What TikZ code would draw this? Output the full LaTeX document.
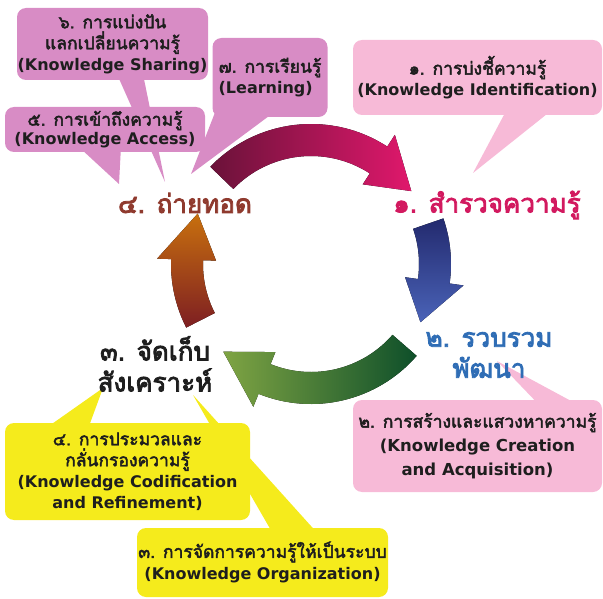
\documentclass[tikz,border=0pt]{standalone}
\usepackage{fontspec}
\newfontfamily\thai[Script=Thai,FakeBold=2.6]{Loma}
\newfontfamily\thaibig[Script=Thai,FakeBold=3.2]{Loma}
\newfontfamily\enf{DejaVu Sans}
\newcommand{\thl}[1]{{\thai\fontsize{17.5}{20}\selectfont #1}}
\newcommand{\enl}[1]{{\enf\bfseries #1}}
\usetikzlibrary{calc,backgrounds}
\definecolor{lpink}{HTML}{F7BAD7}
\definecolor{orchid}{HTML}{D88CC5}
\definecolor{yel}{HTML}{F5EB1C}
\definecolor{labA}{HTML}{D2195F}
\definecolor{labB}{HTML}{2F6DB5}
\definecolor{labC}{HTML}{1E1E1E}
\definecolor{labD}{HTML}{8F3A2E}
\definecolor{maroon}{HTML}{6A1239}
\definecolor{hotpink}{HTML}{E0186C}
\definecolor{navy}{HTML}{232A6E}
\definecolor{midblue}{HTML}{4A63B8}
\definecolor{dkgreen}{HTML}{0E4F2A}
\definecolor{ltgreen}{HTML}{7FA443}
\definecolor{dkred}{HTML}{7D1E22}
\definecolor{orng}{HTML}{C8700E}
\newcommand{\cycarrow}[4]{%
  \fill[#4] ($(C)+(-#1:140)$) arc[start angle=-#1, end angle=-#2, radius=140]
    -- ($(C)+(-#2:154)$) -- ($(C)+(-#3:124)$) -- ($(C)+(-#2:95)$)
    -- ($(C)+(-#2:108)$) arc[start angle=-#2, end angle=-#1, radius=108] -- cycle;}
\begin{document}
\begin{tikzpicture}[x=1pt,y=-1pt,
  callout/.style={rounded corners=9pt, inner sep=0pt, align=center, text=labC,
    font={\lineskiplimit=-100pt\lineskip=0pt\fontsize{16}{21}\selectfont}},
  pbox/.style={callout, fill=lpink},
  obox/.style={callout, fill=orchid},
  ybox/.style={callout, fill=yel},
  lab/.style={inner sep=0pt, align=center,
    font={\lineskiplimit=-100pt\lineskip=0pt\thaibig\fontsize{26}{31}\selectfont}}]
\useasboundingbox (0,0) rectangle (603,599);
\coordinate (C) at (311,264);
% main labels
\node[lab, text=labD] (l4) at (185,203) {๔. ถ่ายทอด};
\node[lab, text=labA] (l1) at (487,205) {๑. สำรวจความรู้};
\node[lab, text=labC] (l3) at (155,364) {๓. จัดเก็บ\\สังเคราะห์};
\node[lab, text=labB] (l2) at (489,355) {๒. รวบรวม\\พัฒนา};
% callout boxes
\node[obox, minimum width=191, minimum height=72] (b6) at (112.5,44)
  {\thl{๖. การแบ่งปัน}\\\thl{แลกเปลี่ยนความรู้}\\\enl{(Knowledge Sharing)}};
\node[obox, minimum width=115, minimum height=79, align=left] (b7) at (270,77.5)
  {\thl{๗. การเรียนรู้}\\\enl{(Learning)}};
\node[obox, minimum width=200, minimum height=45, font={\lineskiplimit=-100pt\fontsize{16}{19}\selectfont}] (b5) at (105,129.5)
  {\thl{๕. การเข้าถึงความรู้}\\\enl{(Knowledge Access)}};
\node[pbox, minimum width=249, minimum height=75] (b1) at (477.5,77.5)
  {\thl{๑. การบ่งชี้ความรู้}\\\enl{(Knowledge Identification)}};
\node[pbox, minimum width=249, minimum height=92, font={\lineskiplimit=-100pt\fontsize{16.5}{24}\selectfont}] (b2) at (477.5,446)
  {\thl{๒. การสร้างและแสวงหาความรู้}\\\enl{(Knowledge Creation}\\\enl{and Acquisition)}};
\node[ybox, minimum width=245, minimum height=97] (y1) at (127.5,471.5)
  {\thl{๔. การประมวลและ}\\\thl{กลั่นกรองความรู้}\\\enl{(Knowledge Codification}\\\enl{and Refinement)}};
\node[ybox, minimum width=251, minimum height=69, font={\lineskiplimit=-100pt\fontsize{16}{22}\selectfont}] (y2) at (262.5,562.5)
  {\thl{๓. การจัดการความรู้ให้เป็นระบบ}\\\enl{(Knowledge Organization)}};
% pointer tips
\coordinate (t1) at (473,173);
\coordinate (t2) at (497,361);
\coordinate (t3) at (103,388);
\coordinate (t4) at (193,395);
\coordinate (t5) at (119,184);
\coordinate (t6) at (165,182);
\coordinate (t7) at (191,174);
\begin{pgfonlayer}{background}
  \fill[lpink] ([xshift=29.5pt,yshift=6pt]b1.south) -- ([xshift=75.5pt,yshift=6pt]b1.south) -- (t1) -- cycle;
  \fill[lpink] ([xshift=62.5pt,yshift=-6pt]b2.north) -- ([xshift=102.5pt,yshift=-6pt]b2.north) -- (t2) -- cycle;
  \fill[yel] ([xshift=-82.5pt,yshift=-6pt]y1.north) -- ([xshift=-39.5pt,yshift=-6pt]y1.north) -- (t3) -- cycle;
  \fill[yel] ([xshift=10.5pt,yshift=-6pt]y2.north) -- ([xshift=55.5pt,yshift=-6pt]y2.north) -- (t4) -- cycle;
  \fill[orchid] ([xshift=-27pt,yshift=6pt]b5.south) -- ([xshift=16pt,yshift=6pt]b5.south) -- (t5) -- cycle;
  \fill[orchid] ([xshift=4.5pt,yshift=6pt]b6.south) -- ([xshift=30.5pt,yshift=6pt]b6.south) -- (t6) -- cycle;
  \fill[orchid] ([xshift=-54.5pt,yshift=6pt]b7.south) -- ([xshift=5.5pt,yshift=6pt]b7.south) -- (t7) -- cycle;
\end{pgfonlayer}
% cycle arrows
\cycarrow{136}{57}{36}{left color=maroon, right color=hotpink}
\cycarrow{19}{-8}{-28}{top color=navy, bottom color=midblue}
\cycarrow{-41}{-112}{-135}{left color=ltgreen, right color=dkgreen}
\cycarrow{207}{178}{156}{top color=orng, bottom color=dkred}
\end{tikzpicture}
\end{document}
